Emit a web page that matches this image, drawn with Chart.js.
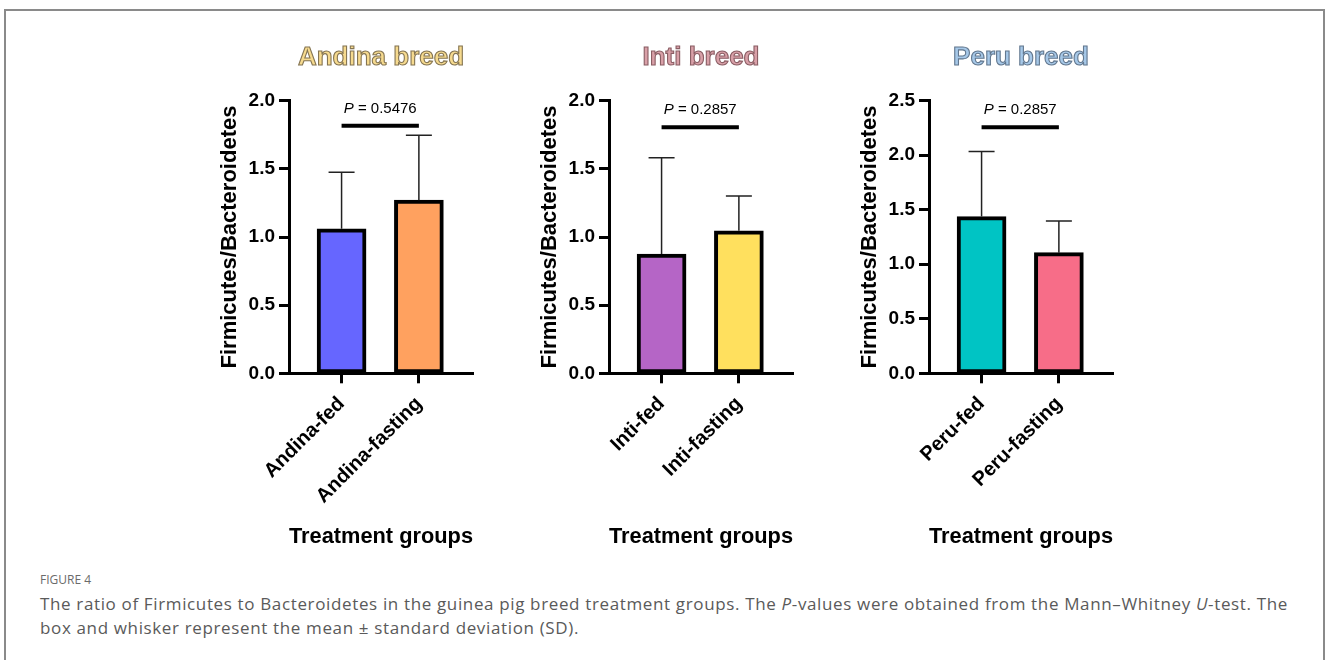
<!DOCTYPE html>
<html>
<head>
<meta charset="utf-8">
<title>Firmicutes/Bacteroidetes ratio by breed</title>
<script src="https://cdn.jsdelivr.net/npm/chart.js@4.4.1/dist/chart.umd.min.js"></script>
<style>
    html, body { margin: 0; padding: 0; background: #fff; }
    body { width: 1328px; height: 660px; position: relative; overflow: hidden; }
    .frame {
        position: absolute; left: 4px; top: 9px; width: 1317px; height: 660px;
        border: 2px solid #8a8a8a; border-bottom: none;
    }
    .panel { position: absolute; top: 20px; width: 300px; height: 540px; }
    .caption {
        position: absolute; left: 40px; top: 568px; width: 1275px;
        font-family: 'Open Sans', sans-serif; color: #5a5a5a;
    }
    .caption .fig { font-size: 12px; color: #6a6a6a; line-height: 24px; }
    .caption .text { font-size: 17px; line-height: 24px; letter-spacing: 0.64px; white-space: nowrap; }
</style>
</head>
<body>
<div class="frame"></div>
<div class="panel" style="left:200px"><canvas id="andina" width="300" height="540"></canvas></div>
<div class="panel" style="left:520px"><canvas id="inti" width="300" height="540"></canvas></div>
<div class="panel" style="left:840px"><canvas id="peru" width="300" height="540"></canvas></div>
<div class="caption">
    <div class="fig">FIGURE 4</div>
    <div class="text">The ratio of Firmicutes to Bacteroidetes in the guinea pig breed treatment groups. The <i>P</i>-values were obtained from the Mann&ndash;Whitney <i>U</i>-test. The<br>box and whisker represent the mean &plusmn; standard deviation (SD).</div>
</div>

<script>
// group labels
const andinaGroups = ['Andina-fed', 'Andina-fasting'];
const intiGroups = ['Inti-fed', 'Inti-fasting'];
const peruGroups = ['Peru-fed', 'Peru-fasting'];

// mean ratio and standard deviation per group
const andinaMeans = [1.06, 1.27];
const andinaSD = [0.415, 0.476];
const intiMeans = [0.875, 1.045];
const intiSD = [0.707, 0.255];
const peruMeans = [1.437, 1.106];
const peruSD = [0.596, 0.291];

// Mann-Whitney P values and the height of the comparison bar
const pValues = ['0.5476', '0.2857', '0.2857'];
const bracketLevels = [1.816, 1.805, 2.257];

// y axis ranges
const yMaxes = [2.0, 2.0, 2.5];

Chart.defaults.font.family = "'Liberation Sans', Arial, sans-serif";
Chart.defaults.color = '#000';

// whiskers (upper SD only), P-value bracket and the breed heading
const annotations = {
    id: 'annotations',
    afterDatasetsDraw(chart, args, opts) {
        const ctx = chart.ctx;
        const xs = chart.scales.x;
        const ys = chart.scales.y;

        ctx.save();
        ctx.strokeStyle = '#222';
        ctx.lineWidth = 1.5;
        opts.means.forEach((m, i) => {
            const x = xs.getPixelForValue(i);
            const yBar = ys.getPixelForValue(m);
            const yTop = ys.getPixelForValue(m + opts.sd[i]);
            ctx.beginPath();
            ctx.moveTo(x, yBar);
            ctx.lineTo(x, yTop);
            ctx.moveTo(x - 13, yTop);
            ctx.lineTo(x + 13, yTop);
            ctx.stroke();
        });

        // comparison bar
        const x0 = xs.getPixelForValue(0);
        const x1 = xs.getPixelForValue(1);
        const yb = ys.getPixelForValue(opts.bracket);
        ctx.strokeStyle = '#000';
        ctx.lineWidth = 4;
        ctx.beginPath();
        ctx.moveTo(x0, yb);
        ctx.lineTo(x1, yb);
        ctx.stroke();

        // "P = ..." label
        const mid = (x0 + x1) / 2;
        const family = "'Liberation Sans', Arial, sans-serif";
        ctx.fillStyle = '#000';
        ctx.textBaseline = 'middle';
        ctx.textAlign = 'left';
        ctx.font = 'italic 15px ' + family;
        const pw = ctx.measureText('P').width;
        ctx.font = '15px ' + family;
        const rest = ' = ' + opts.p;
        const rw = ctx.measureText(rest).width;
        const sx = mid - (pw + rw) / 2;
        ctx.font = 'italic 15px ' + family;
        ctx.fillText('P', sx, yb - 17);
        ctx.font = '15px ' + family;
        ctx.fillText(rest, sx + pw, yb - 17);

        // breed heading, outlined
        const cx = (chart.chartArea.left + chart.chartArea.right) / 2;
        ctx.font = 'bold 26px ' + family;
        ctx.textAlign = 'center';
        ctx.fillStyle = opts.titleFill;
        ctx.fillText(opts.title, cx, 38);
        ctx.strokeStyle = opts.titleStroke;
        ctx.lineWidth = 1.1;
        ctx.strokeText(opts.title, cx, 38);
        ctx.restore();
    }
};

function makePanel(canvasId, title, groups, means, sd, colors, yMax, p, bracket, titleFill, titleStroke) {
    const canvas = document.getElementById(canvasId);
    return new Chart(canvas.getContext('2d'), {
        type: 'bar',
        data: {
            datasets: [{
                data: means.map((m, i) => ({ x: i, y: m })),
                backgroundColor: colors,
                borderColor: '#000',
                borderWidth: 4,
                borderSkipped: false,
                barThickness: 49
            }]
        },
        options: {
            responsive: false,
            animation: false,
            devicePixelRatio: 1,
            layout: { padding: { top: 80.7, right: 27, left: 0, bottom: 0 } },
            plugins: {
                legend: { display: false },
                tooltip: { enabled: false },
                annotations: { means, sd, p, bracket, title, titleFill, titleStroke }
            },
            scales: {
                x: {
                    type: 'linear',
                    min: -0.68,
                    max: 1.70,
                    offset: false,
                    afterBuildTicks: s => { s.ticks = [{ value: 0 }, { value: 1 }]; },
                    afterFit: s => { s.height = 186.7; },
                    ticks: {
                        callback: v => groups[v],
                        autoSkip: false,
                        maxRotation: 45,
                        minRotation: 45,
                        padding: 9,
                        color: '#000',
                        font: { size: 20, weight: 'bold' }
                    },
                    grid: { offset: false, drawOnChartArea: false, tickLength: 10, tickWidth: 3, color: '#000' },
                    border: { display: true, width: 3, color: '#000' },
                    title: {
                        display: true,
                        text: 'Treatment groups',
                        color: '#000',
                        font: { size: 22, weight: 'bold' },
                        padding: { top: 0, bottom: 10 }
                    }
                },
                y: {
                    min: 0,
                    max: yMax,
                    afterFit: s => { s.width = 89; },
                    ticks: {
                        stepSize: 0.5,
                        callback: v => v.toFixed(1),
                        padding: 4,
                        color: '#000',
                        font: { size: 19, weight: 'bold' }
                    },
                    grid: { drawOnChartArea: false, tickLength: 10, tickWidth: 3, color: '#000' },
                    border: { display: true, width: 3, color: '#000' },
                    title: {
                        display: true,
                        text: 'Firmicutes/Bacteroidetes',
                        color: '#000',
                        font: { size: 22, weight: 'bold' },
                        padding: { top: 17, bottom: 0 }
                    }
                }
            }
        },
        plugins: [annotations]
    });
}

makePanel('andina', 'Andina breed', andinaGroups, andinaMeans, andinaSD,
    ['#6666ff', '#ffa15f'], yMaxes[0], pValues[0], bracketLevels[0], '#f6da8e', '#857553');
makePanel('inti', 'Inti breed', intiGroups, intiMeans, intiSD,
    ['#b565c6', '#ffe05e'], yMaxes[1], pValues[1], bracketLevels[1], '#d9a0a8', '#8a5e64');
makePanel('peru', 'Peru breed', peruGroups, peruMeans, peruSD,
    ['#00c4c4', '#f76d88'], yMaxes[2], pValues[2], bracketLevels[2], '#a6c8e8', '#63788f');
</script>
</body>
</html>
